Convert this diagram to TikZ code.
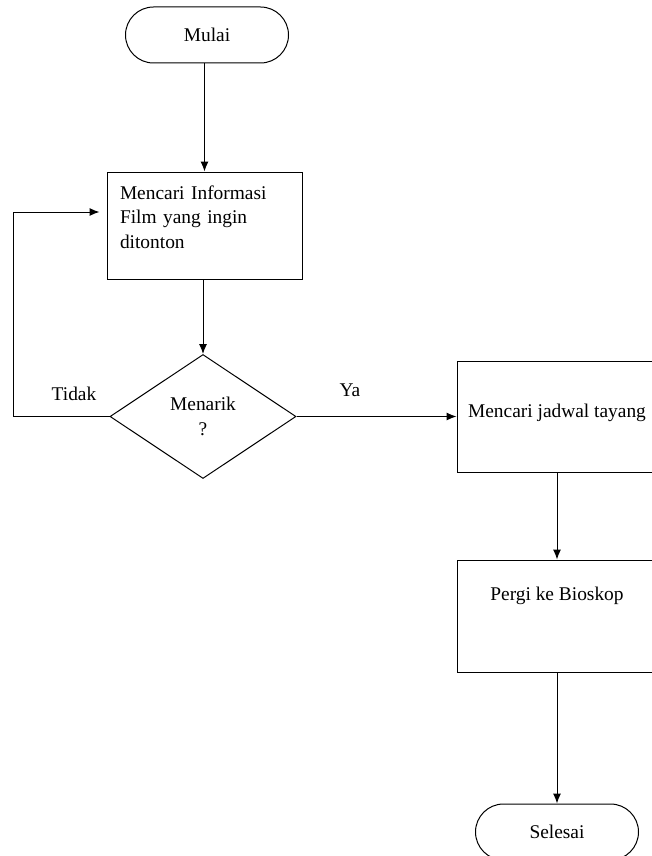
\documentclass[tikz,border=0pt]{standalone}
\usepackage{fontspec}
\setmainfont{Liberation Serif}
\usetikzlibrary{shapes.geometric,arrows.meta}

\begin{document}
\begin{tikzpicture}[x=1pt,y=-1pt,line width=1pt,
    font=\fontsize{19.4}{24.5}\selectfont,
    terminal/.style={draw,rectangle,rounded corners=28pt,minimum width=163pt,minimum height=56pt},
    proses/.style={draw,rectangle,minimum width=200pt,minimum height=111pt},
    keputusan/.style={draw,diamond,aspect=1.5,inner sep=0pt,minimum width=186pt,minimum height=124pt,align=center},
    panah/.style={-{Latex[length=10pt,width=8pt]}}]
    \useasboundingbox (0,0) rectangle (651,856);
    \node[terminal] (mulai) at (207,35) {Mulai};
    \node[proses,minimum width=195pt,minimum height=107pt,text width=169pt,inner xsep=13pt,text depth=66pt] (info) at (204.5,225.5) {\raggedright Mencari Informasi\\Film yang ingin\\ditonton};
    \node[keputusan] (cek) at (203,416.5) {Menarik\\?};
    \node[proses,text depth=12pt] (jadwal) at (557,416.5) {Mencari jadwal tayang};
    \node[proses,minimum height=112pt,text depth=45pt] (bioskop) at (557,616) {Pergi ke Bioskop};
    \node[terminal] (selesai) at (557,832) {Selesai};
    \node (tidak) at (74,394) {Tidak};
    \node (ya) at (350,390) {Ya};
    \coordinate (balik) at (13,212);
    \draw[panah] (info.north |- mulai.south) -- (info.north);
    \draw[panah] (info.south -| cek.north) -- (cek.north);
    \draw[panah,shorten >=7pt] (cek.west) -| (balik) -- (balik -| info.west);
    \draw[panah] (cek.east) -- (cek.east -| jadwal.west);
    \draw[panah] (jadwal.south) -- (bioskop.north);
    \draw[panah] (bioskop.south) -- (selesai.north);
\end{tikzpicture}
\end{document}
